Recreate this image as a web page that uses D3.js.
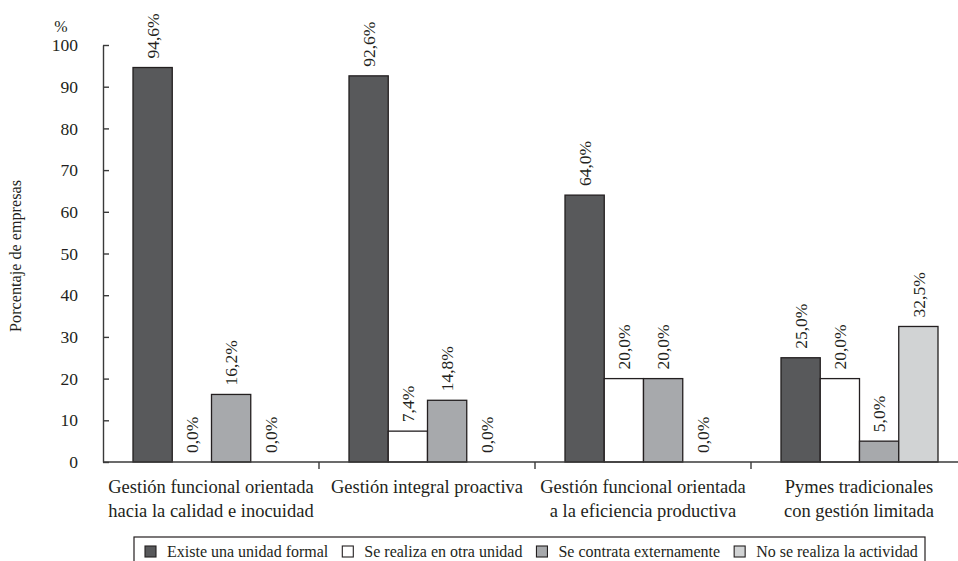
<!DOCTYPE html>
<html>
<head>
<meta charset="utf-8">
<script src="https://cdn.jsdelivr.net/npm/d3@7"></script>
<style>
  html, body { margin: 0; padding: 0; background: #fff; }
  svg { display: block; }
  text { font-family: "Liberation Serif", "Times New Roman", serif; fill: #231f20; }
</style>
</head>
<body>
<svg id="chart" width="958" height="561"></svg>
<script>
// Management type of the firms (x categories)
const categories = [
  "Gestión funcional orientada\nhacia la calidad e inocuidad",
  "Gestión integral proactiva",
  "Gestión funcional orientada\na la eficiencia productiva",
  "Pymes tradicionales\ncon gestión limitada"
];

// How each activity is carried out (series)
const seriesNames = [
  "Existe una unidad formal",
  "Se realiza en otra unidad",
  "Se contrata externamente",
  "No se realiza la actividad"
];

// Percentage of firms, one array per series, in category order
const existeUnidad   = [94.6, 92.6, 64.0, 25.0];
const otraUnidad     = [0.0, 7.4, 20.0, 20.0];
const contrataExtern = [16.2, 14.8, 20.0, 5.0];
const noSeRealiza    = [0.0, 0.0, 0.0, 32.5];

const yTicks = [0, 10, 20, 30, 40, 50, 60, 70, 80, 90, 100];
const seriesColors = ["#58595b", "#ffffff", "#a7a9ac", "#d1d3d4"];

const seriesValues = [existeUnidad, otraUnidad, contrataExtern, noSeRealiza];

const svg = d3.select("#chart");
const ink = "#231f20";

// Scales
const y = d3.scaleLinear().domain([0, 100]).range([462, 45]);
const x = d3.scaleBand().domain(categories).range([103, 967]).padding(0);
const xs = d3.scaleBand().domain(seriesNames).range([30, 187]).padding(0);

// Y axis: ticks pointing into the plot, labels on the left
const yAxis = svg.append("g")
  .attr("transform", "translate(103,0)")
  .call(d3.axisLeft(y).tickValues(yTicks).tickSizeInner(-6).tickSizeOuter(0).tickPadding(25));
yAxis.selectAll("path, line").attr("stroke", "#3a3a3a").attr("stroke-width", 1.4);
yAxis.selectAll("text")
  .style("font-family", "'Liberation Serif', 'Times New Roman', serif")
  .style("font-size", "17.5px")
  .attr("fill", ink);

// Unit and axis title
svg.append("text").attr("x", 61).attr("y", 32).attr("text-anchor", "middle")
  .style("font-size", "16px").text("%");
svg.append("text")
  .attr("transform", "translate(21,256) rotate(-90)")
  .attr("text-anchor", "middle")
  .style("font-size", "16.2px")
  .text("Porcentaje de empresas");

// Bars
const groups = svg.append("g").selectAll("g")
  .data(categories)
  .join("g")
  .attr("transform", d => `translate(${x(d)},0)`);

const barData = (c, ci) => seriesNames.map((s, si) => ({ s, si, v: seriesValues[si][ci] }));

groups.each(function(c, ci) {
  const g = d3.select(this);
  const data = barData(c, ci);
  g.selectAll("rect")
    .data(data.filter(d => d.v > 0))
    .join("rect")
    .attr("x", d => xs(d.s))
    .attr("y", d => y(d.v))
    .attr("width", xs.bandwidth())
    .attr("height", d => y(0) - y(d.v))
    .attr("fill", d => seriesColors[d.si])
    .attr("stroke", ink)
    .attr("stroke-width", 1.3);

  g.selectAll("text.val")
    .data(data)
    .join("text")
    .attr("class", "val")
    .attr("transform", d => `translate(${xs(d.s) + xs.bandwidth() / 2},${y(d.v) - 9}) rotate(-90)`)
    .attr("dy", "0.35em")
    .style("font-size", "17.5px")
    .text(d => d.v.toFixed(1).replace(".", ",") + "%");
});

// X axis baseline with category separators
svg.append("line")
  .attr("x1", 103).attr("x2", 958)
  .attr("y1", y(0)).attr("y2", y(0))
  .attr("stroke", "#3a3a3a").attr("stroke-width", 1.4);
svg.append("g").selectAll("line")
  .data(categories)
  .join("line")
  .attr("x1", d => x(d) + x.bandwidth()).attr("x2", d => x(d) + x.bandwidth())
  .attr("y1", y(0)).attr("y2", y(0) + 7)
  .attr("stroke", "#3a3a3a").attr("stroke-width", 1.4);

// Category labels
svg.append("g").selectAll("text")
  .data(categories)
  .join("text")
  .attr("text-anchor", "middle")
  .style("font-size", "18.5px")
  .each(function(d) {
    const t = d3.select(this);
    d.split("\n").forEach((line, i) => {
      t.append("tspan")
        .attr("x", x(d) + x.bandwidth() / 2)
        .attr("y", 493 + i * 23.5)
        .text(line);
    });
  });

// Legend
const legend = svg.append("g");
legend.append("rect")
  .attr("x", 134).attr("y", 537).attr("width", 791).attr("height", 34)
  .attr("fill", "none").attr("stroke", ink).attr("stroke-width", 1.2);
let lx = 145;
seriesNames.forEach((s, i) => {
  legend.append("rect")
    .attr("x", lx).attr("y", 546).attr("width", 11).attr("height", 11)
    .attr("fill", seriesColors[i]).attr("stroke", ink).attr("stroke-width", 1.1);
  const t = legend.append("text")
    .attr("x", lx + 22).attr("y", 557)
    .style("font-size", "16px")
    .text(s);
  lx = lx + 22 + t.node().getComputedTextLength() + 14;
});
</script>
</body>
</html>
